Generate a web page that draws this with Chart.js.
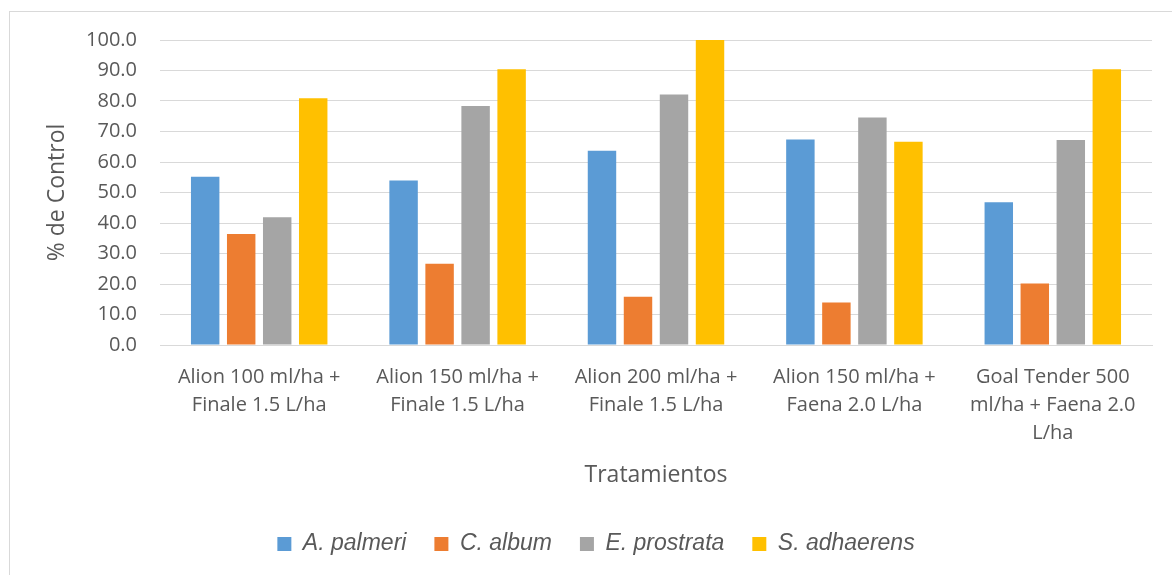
<!DOCTYPE html>
<html>
<head>
<meta charset="utf-8">
<script src="https://cdn.jsdelivr.net/npm/chart.js@4/dist/chart.umd.min.js"></script>
<style>
  html, body { margin: 0; padding: 0; background: #ffffff; }
  #wrap { position: relative; width: 1172px; height: 575px; overflow: hidden; }
  #frame { position: absolute; left: 9px; top: 11px; width: 1300px; height: 700px; border: 1px solid #d9d9d9; box-sizing: border-box; }
  canvas { position: absolute; left: 0; top: 0; }
</style>
</head>
<body>
<div id="wrap">
  <div id="frame"></div>
  <canvas id="c" width="1172" height="575"></canvas>
</div>
<script>
const categories = [
  ["Alion 100 ml/ha +", "Finale 1.5 L/ha"],
  ["Alion 150 ml/ha +", "Finale 1.5 L/ha"],
  ["Alion 200 ml/ha +", "Finale 1.5 L/ha"],
  ["Alion 150 ml/ha +", "Faena 2.0 L/ha"],
  ["Goal Tender 500", "ml/ha + Faena 2.0", "L/ha"]
];
const seriesNames = ["A. palmeri", "C. album", "E. prostrata", "S. adhaerens"];
const aPalmeri = [55.2, 53.9, 63.7, 67.4, 46.8];
const cAlbum = [36.4, 26.6, 15.8, 13.9, 20.2];
const eProstrata = [41.9, 78.4, 82.1, 74.6, 67.2];
const sAdhaerens = [80.9, 90.4, 100.0, 66.6, 90.4];
const seriesColors = ["#5B9BD5", "#ED7D31", "#A5A5A5", "#FFC000"];
const yTicks = [0, 10, 20, 30, 40, 50, 60, 70, 80, 90, 100];
const yTitle = "% de Control";
const xTitle = "Tratamientos";

const values = [aPalmeri, cAlbum, eProstrata, sAdhaerens];
const textColor = "#595959";
const gridColor = "#D9D9D9";

new Chart(document.getElementById("c"), {
  type: "bar",
  data: {
    labels: categories,
    datasets: seriesNames.map((n, i) => ({
      label: n,
      data: values[i],
      backgroundColor: seriesColors[i],
      borderWidth: 0,
      categoryPercentage: 0.726,
      barPercentage: 0.79
    }))
  },
  options: {
    responsive: false,
    animation: false,
    devicePixelRatio: 1,
    layout: { padding: { left: 40, right: 20, top: 40, bottom: 9.5 } },
    plugins: {
      tooltip: { enabled: false },
      legend: {
        position: "bottom",
        labels: {
          boxWidth: 14,
          boxHeight: 14,
          padding: 28,
          color: textColor,
          font: { family: "'Liberation Sans', Arial, sans-serif", size: 23, style: "italic" }
        }
      }
    },
    scales: {
      x: {
        grid: { display: false, drawTicks: false },
        border: { display: true, color: gridColor, width: 1 },
        ticks: {
          color: textColor,
          padding: 18,
          maxRotation: 0,
          autoSkip: false,
          font: { family: "'Open Sans', sans-serif", size: 20, lineHeight: 1.4 }
        },
        title: {
          display: true,
          text: xTitle,
          color: textColor,
          padding: { top: 0, bottom: 15.7 },
          font: { family: "'Open Sans', sans-serif", size: 23 }
        },
        afterFit: (s) => { s.height = 159.5; }
      },
      y: {
        min: 0,
        max: 100,
        afterBuildTicks: (s) => { s.ticks = yTicks.map(v => ({ value: v })); },
        grid: { color: gridColor, lineWidth: 1, drawTicks: false },
        border: { display: false },
        ticks: {
          color: textColor,
          padding: 23,
          font: { family: "'Open Sans', sans-serif", size: 20 },
          callback: (v) => Number(v).toFixed(1)
        },
        title: {
          display: true,
          text: yTitle,
          color: textColor,
          padding: { top: 4, bottom: 0 },
          font: { family: "'Open Sans', sans-serif", size: 23 }
        },
        afterFit: (s) => { s.width = 120; }
      }
    }
  }
});
</script>
</body>
</html>
